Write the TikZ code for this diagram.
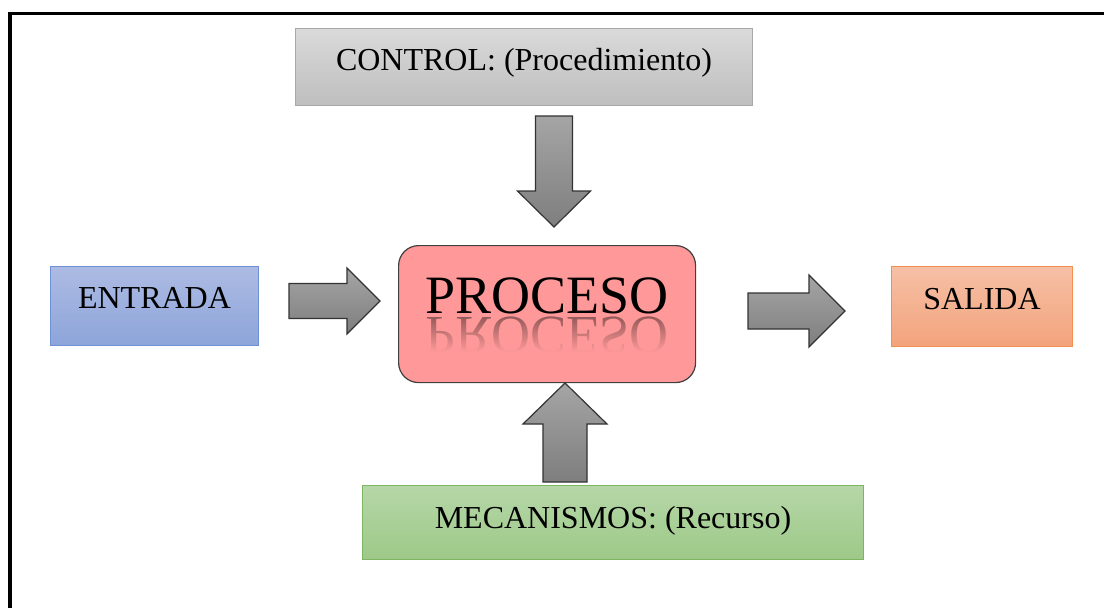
\documentclass[tikz,border=0pt]{standalone}
\usepackage{fontspec}
\setmainfont{Liberation Serif}
\usetikzlibrary{calc,fadings}

\definecolor{ctrltop}{HTML}{DADADA}
\definecolor{ctrlbot}{HTML}{BEBEBE}
\definecolor{ctrledge}{HTML}{A8A8A8}
\definecolor{intop}{HTML}{ADBBE3}
\definecolor{inbot}{HTML}{8DA5DA}
\definecolor{inedge}{HTML}{6E90D6}
\definecolor{outtop}{HTML}{F6C0A6}
\definecolor{outbot}{HTML}{F3A37C}
\definecolor{outedge}{HTML}{F2914F}
\definecolor{mectop}{HTML}{B6D7A8}
\definecolor{mecbot}{HTML}{9DC988}
\definecolor{mecedge}{HTML}{7DB563}
\definecolor{procfill}{HTML}{FF9999}
\definecolor{procedge}{HTML}{404040}
\definecolor{arrtop}{HTML}{A5A5A5}
\definecolor{arrbot}{HTML}{7E7E7E}
\definecolor{arredge}{HTML}{333333}

\tikzfading[name=reflectfade, top color=transparent!75, bottom color=transparent!0]

\tikzset{
  labelbox/.style={inner sep=0pt, font=\fontsize{32}{38}\selectfont, line width=1pt},
  controlbox/.style={labelbox, top color=ctrltop, bottom color=ctrlbot, draw=ctrledge,
    minimum width=457pt, text height=42pt, text depth=35pt},
  inputbox/.style={labelbox, top color=intop, bottom color=inbot, draw=inedge,
    minimum width=208pt, text height=42pt, text depth=37pt},
  outputbox/.style={labelbox, top color=outtop, bottom color=outbot, draw=outedge,
    minimum width=181pt, text height=43pt, text depth=37pt},
  mechbox/.style={labelbox, top color=mectop, bottom color=mecbot, draw=mecedge,
    minimum width=501pt, text height=43pt, text depth=31pt},
  processbox/.style={inner sep=0pt, fill=procfill, draw=procedge, line width=1.2pt,
    rounded corners=20pt, minimum width=297pt, text height=68pt, text depth=69pt,
    font=\fontsize{54}{60}\selectfont},
  blockarrowstyle/.style={top color=arrtop, bottom color=arrbot, draw=arredge,
    line width=1.2pt, line join=miter},
}

% #1 tail, #2 tip, (#3,#4) unit direction, #5 shaft half width,
% #6 head half width, #7 head length
\newcommand\blockarrow[7]{%
  \draw[blockarrowstyle]
    ($(#1)+({-(#4)*(#5)},{(#3)*(#5)})$)
    -- ($(#2)+({-(#7)*(#3)-(#4)*(#5)},{-(#7)*(#4)+(#3)*(#5)})$)
    -- ($(#2)+({-(#7)*(#3)-(#4)*(#6)},{-(#7)*(#4)+(#3)*(#6)})$)
    -- (#2)
    -- ($(#2)+({-(#7)*(#3)+(#4)*(#6)},{-(#7)*(#4)-(#3)*(#6)})$)
    -- ($(#2)+({-(#7)*(#3)+(#4)*(#5)},{-(#7)*(#4)-(#3)*(#5)})$)
    -- ($(#1)+({(#4)*(#5)},{-(#3)*(#5)})$)
    -- cycle;%
}

\begin{document}
\begin{tikzpicture}[x=1pt, y={(0pt,-1pt)}]
  \useasboundingbox (0,0) rectangle (1104,608);
  \fill[white] (0,0) rectangle (1104,608);

  % outer frame (only its top and left sides fall inside the page)
  \draw[line width=3.4pt, line cap=rect] (10,610) -- (10,13.5) -- (1106,13.5);

  % boxes
  \node[controlbox, anchor=north west] (control) at (295,28) {CONTROL: (Procedimiento)};
  \node[inputbox, anchor=north west] (entrada) at (50,266) {ENTRADA};
  \node[outputbox, anchor=north west] (salida) at (891,266) {SALIDA};
  \node[mechbox, anchor=north west] (mecanismos) at (362,485) {MECANISMOS: (Recurso)};
  \node[processbox, anchor=north west] (proceso) at (398,245) {PROCESO};

  % mirrored reflection of the process title, fading downwards
  \begin{scope}[shift={($(proceso.base)+(0,4)$)}, yscale=-1]
    \node[anchor=base, inner sep=0pt, transform shape, opacity=0.55,
          font=\fontsize{54}{60}\selectfont] (procesoreflection) at (0,0) {PROCESO};
  \end{scope}
  \fill[procfill, path fading=reflectfade]
    ($(proceso.base)+(-128,3)$) rectangle ($(proceso.base)+(128,38)$);
  \fill[procfill] ($(proceso.base)+(-128,38)$) rectangle ($(proceso.base)+(128,46)$);

  % end points of the block arrows
  \coordinate (inTail)   at (289,301);
  \coordinate (inTip)    at (380,301);
  \coordinate (outTail)  at (748,311);
  \coordinate (outTip)   at (845,311);
  \coordinate (ctrlTail) at (554,116);
  \coordinate (ctrlTip)  at (554,227);
  \coordinate (mecTail)  at (565,482);
  \coordinate (mecTip)   at (565,383);

  \blockarrow{inTail}{inTip}{1}{0}{17.5}{33}{33}
  \blockarrow{outTail}{outTip}{1}{0}{18}{36}{36}
  \blockarrow{ctrlTail}{ctrlTip}{0}{1}{18.5}{36.5}{36}
  \blockarrow{mecTail}{mecTip}{0}{-1}{22}{42}{41}
\end{tikzpicture}
\end{document}
